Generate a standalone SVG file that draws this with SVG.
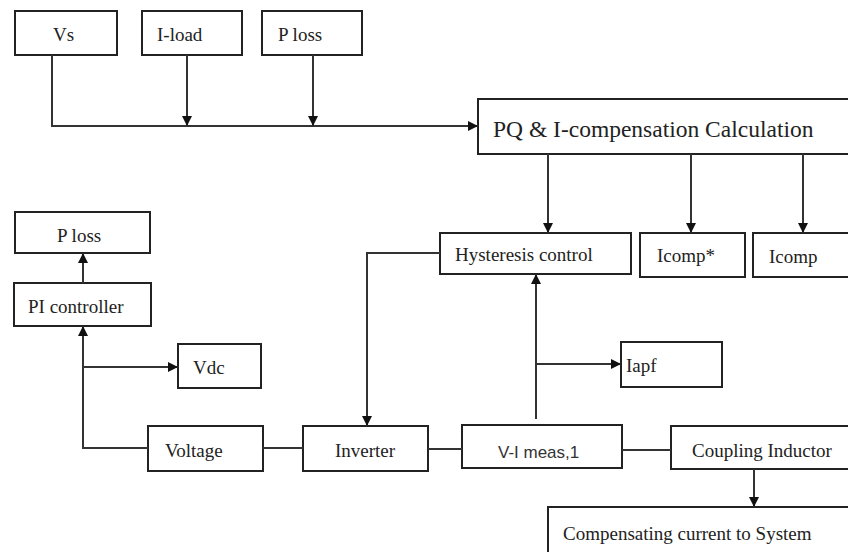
<svg xmlns="http://www.w3.org/2000/svg" width="848" height="552" viewBox="0 0 848 552">
<style>
.box{fill:#fff;stroke:#222;stroke-width:2}
.t{font-family:"Liberation Serif","Times New Roman",serif;font-size:19px;fill:#222}
.s{font-family:"Liberation Sans",Arial,sans-serif;font-size:17px;fill:#333}
.c{fill:none;stroke:#333;stroke-width:2}
</style>
<defs>
<marker id="ah" viewBox="0 0 10 10" refX="10" refY="5" markerWidth="10" markerHeight="10" markerUnits="userSpaceOnUse" orient="auto">
<path d="M0,0 L10,5 L0,10 Z" fill="#111"/>
</marker>
</defs>
<rect width="848" height="552" fill="#fff"/>
<g id="vs"><rect class="box" x="15" y="11" width="102" height="44"/><text class="t" x="53" y="41">Vs</text></g>
<g id="iload"><rect class="box" x="142" y="11" width="100" height="44"/><text class="t" x="157" y="41">I-load</text></g>
<g id="ploss1"><rect class="box" x="262" y="11" width="100" height="44"/><text class="t" x="278" y="41">P loss</text></g>
<g id="pq"><rect class="box" x="478" y="99" width="390" height="55"/><text class="t" x="493" y="137" style="font-size:23.5px">PQ &amp; I-compensation Calculation</text></g>
<g id="hyst"><rect class="box" x="440" y="233" width="191" height="41"/><text class="t" x="455" y="261">Hysteresis control</text></g>
<g id="icompstar"><rect class="box" x="640" y="233" width="105" height="44"/><text class="t" x="657" y="262">Icomp*</text></g>
<g id="icomp"><rect class="box" x="753" y="233" width="110" height="44"/><text class="t" x="769" y="263">Icomp</text></g>
<g id="ploss2"><rect class="box" x="15" y="212" width="135" height="41"/><text class="t" x="57" y="242">P loss</text></g>
<g id="pi"><rect class="box" x="14" y="283" width="137" height="43"/><text class="t" x="28" y="313">PI controller</text></g>
<g id="vdc"><rect class="box" x="178" y="344" width="83" height="44"/><text class="t" x="193" y="374">Vdc</text></g>
<g id="voltage"><rect class="box" x="148" y="426" width="115" height="45"/><text class="t" x="165" y="457">Voltage</text></g>
<g id="inverter"><rect class="box" x="303" y="426" width="125" height="45"/><text class="t" x="335" y="457">Inverter</text></g>
<g id="vimeas"><rect class="box" x="462" y="425" width="160" height="43"/><text class="s" x="498" y="458">V-I meas,1</text></g>
<g id="iapf"><rect class="box" x="621" y="342" width="101" height="45"/><text class="t" x="626" y="372">Iapf</text></g>
<g id="coupling"><rect class="box" x="671" y="426" width="190" height="43"/><text class="t" x="692" y="457">Coupling Inductor</text></g>
<g id="comp"><rect class="box" x="548" y="507" width="320" height="60"/><text class="t" x="563" y="540">Compensating current to System</text></g>
<g id="connectors">
<path class="c" d="M52,55 V126 H478" marker-end="url(#ah)"/>
<path class="c" d="M187,55 V126" marker-end="url(#ah)"/>
<path class="c" d="M313,55 V126" marker-end="url(#ah)"/>
<path class="c" d="M548,154 V233" marker-end="url(#ah)"/>
<path class="c" d="M691,154 V233" marker-end="url(#ah)"/>
<path class="c" d="M803,154 V233" marker-end="url(#ah)"/>
<path class="c" d="M83,283 V253" marker-end="url(#ah)"/>
<path class="c" d="M148,448 H83 V326" marker-end="url(#ah)"/>
<path class="c" d="M83,367 H178" marker-end="url(#ah)"/>
<path class="c" d="M263,448 H303"/>
<path class="c" d="M440,253 H367 V426" marker-end="url(#ah)"/>
<path class="c" d="M428,449 H462"/>
<path class="c" d="M536,419 V274" marker-end="url(#ah)"/>
<path class="c" d="M536,364 H621" marker-end="url(#ah)"/>
<path class="c" d="M622,450 H671"/>
<path class="c" d="M754,469 V507" marker-end="url(#ah)"/>
</g>
</svg>
